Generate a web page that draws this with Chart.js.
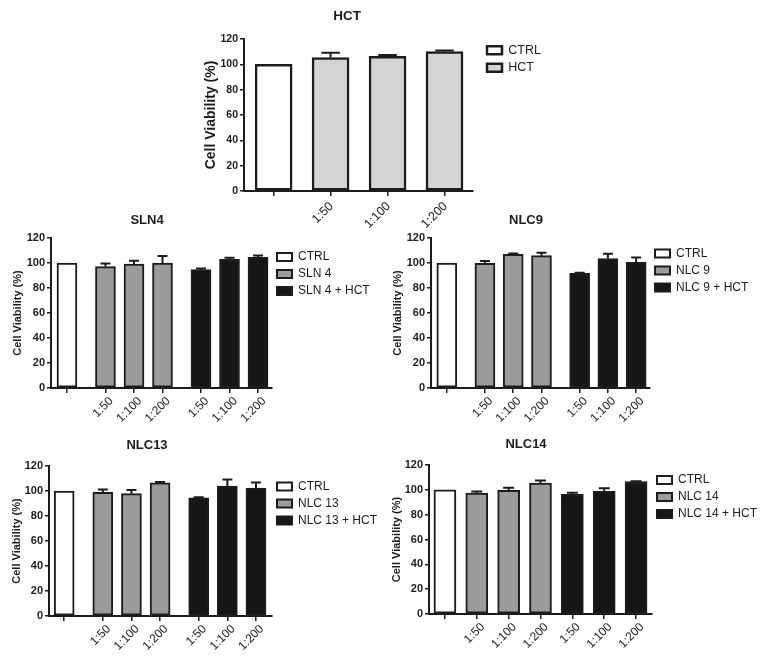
<!DOCTYPE html>
<html>
<head>
<meta charset="utf-8">
<script src="https://cdn.jsdelivr.net/npm/chart.js@4.4.1/dist/chart.umd.min.js"></script>
<style>
html, body { margin:0; padding:0; background:#ffffff; }
body { width:760px; height:658px; overflow:hidden; position:relative; }
canvas { position:absolute; }
</style>
</head>
<body>
<canvas id="pHCT"></canvas>
<canvas id="pSLN4"></canvas>
<canvas id="pNLC9"></canvas>
<canvas id="pNLC13"></canvas>
<canvas id="pNLC14"></canvas>
<script>
// ---------------- DATA ----------------
const yAxisTitle = 'Cell Viability (%)';
const yTickValues = [0, 20, 40, 60, 80, 100, 120];

// Panel HCT
const hctTitle = 'HCT';
const hctTickLabels = ['', '1:50', '1:100', '1:200'];
const hctSeriesNames = ['CTRL', 'HCT'];
const hctCtrl = [100];
const hctValues = [105.3, 106.3, 110.0];
const hctSd = [3.9, 1.0, 0.9];

// Shared tick labels for the combined panels
const comboTickLabels = ['', '1:50', '1:100', '1:200', '1:50', '1:100', '1:200'];

// Panel SLN4
const sln4Title = 'SLN4';
const sln4SeriesNames = ['CTRL', 'SLN 4', 'SLN 4 + HCT'];
const sln4Ctrl = [100];
const sln4Alone = [97.1, 99.2, 100.0];
const sln4AloneSd = [2.6, 2.7, 5.6];
const sln4Hct = [94.7, 102.9, 104.5];
const sln4HctSd = [1.0, 1.4, 1.6];

// Panel NLC9
const nlc9Title = 'NLC9';
const nlc9SeriesNames = ['CTRL', 'NLC 9', 'NLC 9 + HCT'];
const nlc9Ctrl = [100];
const nlc9Alone = [99.7, 106.9, 105.9];
const nlc9AloneSd = [1.9, 0.8, 2.4];
const nlc9Hct = [91.7, 103.5, 100.5];
const nlc9HctSd = [0.6, 4.0, 4.0];

// Panel NLC13
const nlc13Title = 'NLC13';
const nlc13SeriesNames = ['CTRL', 'NLC 13', 'NLC 13 + HCT'];
const nlc13Ctrl = [100];
const nlc13Alone = [98.9, 97.9, 106.6];
const nlc13AloneSd = [2.4, 2.9, 0.6];
const nlc13Hct = [94.6, 104.0, 102.4];
const nlc13HctSd = [0.5, 5.3, 4.5];

// Panel NLC14
const nlc14Title = 'NLC14';
const nlc14SeriesNames = ['CTRL', 'NLC 14', 'NLC 14 + HCT'];
const nlc14Ctrl = [100];
const nlc14Alone = [97.3, 99.7, 105.4];
const nlc14AloneSd = [1.4, 1.9, 2.1];
const nlc14Hct = [96.3, 98.7, 106.7];
const nlc14HctSd = [1.3, 2.6, 0.3];

// ---------------- STYLE ----------------
const FONT = 'Arial, "Liberation Sans", Helvetica, sans-serif';
const INK = '#1c1c1c';
const WHITE = '#ffffff';
const LIGHT_GRAY = '#d5d5d5';
const MID_GRAY = '#9b9b9b';
const BLACK = '#161616';
const LEGEND_PAD = 5, LEGEND_BOX_W = 15, LEGEND_BOX_H = 8;

const errorBarPlugin = {
  id: 'errorBars',
  afterDatasetsDraw(chart, args, opts) {
    const ctx = chart.ctx;
    const ys = chart.scales.y;
    chart.data.datasets.forEach((ds, di) => {
      const sd = ds.errors;
      if (!sd) return;
      const meta = chart.getDatasetMeta(di);
      meta.data.forEach((bar, i) => {
        const e = sd[i];
        if (!e) return;
        const v = ds.data[i].y;
        const x = bar.x;
        const y0 = ys.getPixelForValue(v);
        const y1 = ys.getPixelForValue(v + e);
        const half = bar.width / 4;
        ctx.save();
        ctx.strokeStyle = INK;
        ctx.lineWidth = opts.lineWidth || 2;
        ctx.beginPath();
        ctx.moveTo(x, y0); ctx.lineTo(x, y1);
        ctx.moveTo(x - half, y1); ctx.lineTo(x + half, y1);
        ctx.stroke();
        ctx.restore();
      });
    });
  }
};

const panelTitlePlugin = {
  id: 'panelTitle',
  afterDraw(chart, args, o) {
    const ctx = chart.ctx;
    ctx.save();
    ctx.font = 'bold ' + o.size + 'px ' + FONT;
    ctx.fillStyle = INK;
    ctx.textAlign = 'center';
    ctx.textBaseline = 'middle';
    ctx.fillText(o.text, o.x, o.y);
    ctx.restore();
  }
};

function legendWidth(names, size) {
  const c = document.createElement('canvas').getContext('2d');
  c.font = 'normal ' + size + 'px ' + FONT;
  let m = 0;
  names.forEach(n => { m = Math.max(m, c.measureText(n).width); });
  return LEGEND_PAD + LEGEND_BOX_W + size / 2 + m + 10;
}

function makePanel(id, spec, groups, tickLabels) {
  const top = Math.floor(spec.titleY - 12);
  const left = spec.area.left - spec.yAxisW;
  const plotW = spec.area.right - spec.area.left;
  const lw = legendWidth(groups.map(g => g.label), spec.legendSize);
  const used = spec.yAxisW + plotW + spec.gapG + lw;
  const W = Math.ceil(used) + 6;
  const padR = W - used;
  const H = Math.round(spec.area.bottom - top + spec.xAxisH);

  const cv = document.getElementById(id);
  cv.style.left = left + 'px';
  cv.style.top = top + 'px';
  cv.width = W; cv.height = H;
  cv.style.width = W + 'px'; cv.style.height = H + 'px';

  const datasets = [];
  const tickPos = [];
  let idx = 0;
  groups.forEach((g, gi) => {
    const pts = g.values.map((v, k) => {
      const x = idx + k + spec.gap * gi;
      tickPos.push(x);
      return { x: x, y: v };
    });
    idx += g.values.length;
    datasets.push({
      label: g.label,
      data: pts,
      errors: g.sd,
      backgroundColor: g.color,
      borderColor: INK,
      borderWidth: spec.borderW,
      borderSkipped: false,
      barThickness: spec.barW,
      grouped: false,
      xAxisID: 'x',
      yAxisID: 'y'
    });
  });

  const scales = {
    x: {
      type: 'linear', min: spec.xMin, max: spec.xMax, offset: false,
      afterBuildTicks: s => { s.ticks = tickPos.map(v => ({ value: v })); },
      afterFit: s => { s.height = spec.xAxisH; },
      grid: { display: true, drawOnChartArea: false, drawTicks: true, tickLength: 5, offset: false, color: INK, lineWidth: 1.5 },
      border: { display: true, color: INK, width: 2 },
      ticks: {
        autoSkip: false, minRotation: 45, maxRotation: 45, padding: spec.xTickPad, labelOffset: spec.xLabelOffset,
        color: INK, font: { family: FONT, size: spec.xTickSize },
        callback: (v, i) => tickLabels[i]
      }
    },
    y: {
      type: 'linear', min: 0, max: 120,
      afterBuildTicks: s => { s.ticks = yTickValues.map(v => ({ value: v })); },
      afterFit: s => { s.width = spec.yAxisW; },
      grid: { display: true, drawOnChartArea: false, drawTicks: true, tickLength: 4, color: INK, lineWidth: 1.5 },
      border: { display: true, color: INK, width: 2 },
      ticks: { padding: 2, color: INK, font: { family: FONT, size: spec.yTickSize, weight: 'bold' } },
      title: {
        display: true, text: yAxisTitle, color: INK,
        font: { family: FONT, size: spec.yTitleSize, weight: 'bold', lineHeight: 1.2 },
        padding: { top: spec.yTitlePad, bottom: 0 }
      }
    }
  };
  if (spec.gapG > 0) {
    scales.pad = {
      type: 'linear', position: 'right', display: true,
      grid: { display: false, drawTicks: false },
      border: { display: false },
      ticks: { display: false },
      afterFit: s => { s.width = spec.gapG; }
    };
  }

  return new Chart(cv, {
    type: 'bar',
    data: { datasets: datasets },
    plugins: [errorBarPlugin, panelTitlePlugin],
    options: {
      responsive: false,
      animation: false,
      devicePixelRatio: 1,
      layout: { padding: { left: 0, top: spec.area.top - top, bottom: 0, right: padR } },
      plugins: {
        title: { display: false },
        panelTitle: { text: spec.title, size: spec.titleSize, x: spec.titleX - left, y: spec.titleY - top },
        legend: {
          display: true, position: 'right', align: 'start', fullSize: false, maxWidth: lw,
          title: spec.legendTitleH > 0
            ? { display: true, text: ' ', font: { size: spec.legendTitleH, lineHeight: 1 }, padding: 0 }
            : { display: false },
          labels: {
            boxWidth: LEGEND_BOX_W, boxHeight: LEGEND_BOX_H, padding: LEGEND_PAD, color: INK, textAlign: 'left',
            font: { family: FONT, size: spec.legendSize }
          }
        },
        tooltip: { enabled: false },
        errorBars: { lineWidth: spec.errW }
      },
      scales: scales
    }
  });
}

const bigSpec = {
  titleSize: 13, yAxisW: 40, yTitleSize: 11, yTitlePad: 0.4, yTickSize: 11,
  xAxisH: 50, xTickSize: 12, xTickPad: 1, xLabelOffset: 6,
  barW: 20, borderW: 2, errW: 2, legendSize: 12, gapG: 0
};

makePanel('pHCT', {
  title: hctTitle, titleX: 347, titleY: 16.5, titleSize: 13.5,
  area: { left: 244, right: 473, top: 39, bottom: 191 },
  yAxisW: 42, yTitleSize: 14, yTitlePad: 0.6, yTickSize: 10.5,
  xAxisH: 50, xTickSize: 12.5, xTickPad: 3, xLabelOffset: 1, gap: 0, xMin: -0.52, xMax: 3.5,
  barW: 37, borderW: 2.5, errW: 2, legendSize: 12.5, legendTitleH: 0, gapG: 9
}, [
  { label: hctSeriesNames[0], values: hctCtrl, sd: null, color: WHITE },
  { label: hctSeriesNames[1], values: hctValues, sd: hctSd, color: LIGHT_GRAY }
], hctTickLabels);

makePanel('pSLN4', Object.assign({}, bigSpec, {
  title: sln4Title, titleX: 147, titleY: 220,
  area: { left: 51, right: 272, top: 238, bottom: 388 },
  gap: 0.35, xMin: -0.56, xMax: 7.19, legendTitleH: 8
}), [
  { label: sln4SeriesNames[0], values: sln4Ctrl, sd: null, color: WHITE },
  { label: sln4SeriesNames[1], values: sln4Alone, sd: sln4AloneSd, color: MID_GRAY },
  { label: sln4SeriesNames[2], values: sln4Hct, sd: sln4HctSd, color: BLACK }
], comboTickLabels);

makePanel('pNLC9', Object.assign({}, bigSpec, {
  title: nlc9Title, titleX: 526, titleY: 220,
  area: { left: 431, right: 650, top: 238, bottom: 388 },
  gap: 0.35, xMin: -0.56, xMax: 7.19, legendTitleH: 4.5
}), [
  { label: nlc9SeriesNames[0], values: nlc9Ctrl, sd: null, color: WHITE },
  { label: nlc9SeriesNames[1], values: nlc9Alone, sd: nlc9AloneSd, color: MID_GRAY },
  { label: nlc9SeriesNames[2], values: nlc9Hct, sd: nlc9HctSd, color: BLACK }
], comboTickLabels);

makePanel('pNLC13', Object.assign({}, bigSpec, {
  title: nlc13Title, titleX: 147, titleY: 445,
  area: { left: 49, right: 272, top: 466, bottom: 616 },
  yTitlePad: 1.4, gap: 0.35, xMin: -0.53, xMax: 7.26, legendTitleH: 9.5
}), [
  { label: nlc13SeriesNames[0], values: nlc13Ctrl, sd: null, color: WHITE },
  { label: nlc13SeriesNames[1], values: nlc13Alone, sd: nlc13AloneSd, color: MID_GRAY },
  { label: nlc13SeriesNames[2], values: nlc13Hct, sd: nlc13HctSd, color: BLACK }
], comboTickLabels);

makePanel('pNLC14', Object.assign({}, bigSpec, {
  title: nlc14Title, titleX: 526, titleY: 444,
  area: { left: 429, right: 652, top: 465, bottom: 614 },
  yTitlePad: 1.4, gap: 0, xMin: -0.5, xMax: 6.5, barW: 22, legendTitleH: 4
}), [
  { label: nlc14SeriesNames[0], values: nlc14Ctrl, sd: null, color: WHITE },
  { label: nlc14SeriesNames[1], values: nlc14Alone, sd: nlc14AloneSd, color: MID_GRAY },
  { label: nlc14SeriesNames[2], values: nlc14Hct, sd: nlc14HctSd, color: BLACK }
], comboTickLabels);
</script>
</body>
</html>
